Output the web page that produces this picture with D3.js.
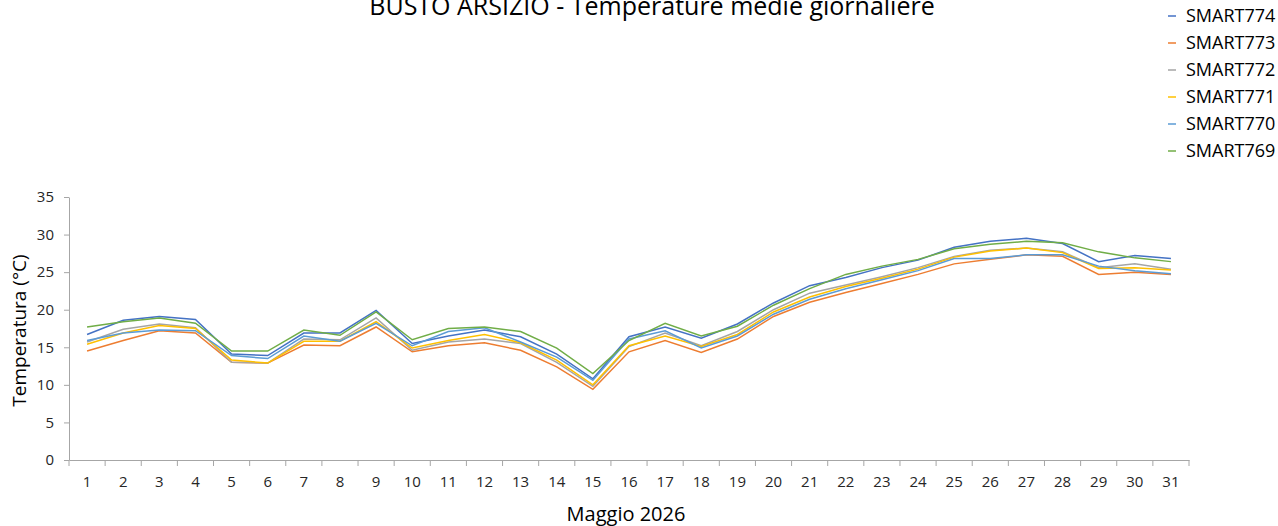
<!DOCTYPE html>
<html>
    <head>
        <title>BUSTO ARSIZIO - Temperature medie giornaliere</title>
        <script src="https://d3js.org/d3.v7.min.js"></script>
        <style>
            * {
                font-family: 'Open Sans', sans-serif;
            }
            body {
                margin: 0;
                background: #ffffff;
                overflow: hidden;
            }
            .axis path,
            .axis line {
                stroke: #a6a6a6;
            }
            .axis text {
                fill: #262626;
                font-size: 15px;
            }
            .serie {
                fill: none;
                stroke-width: 1.5px;
            }
        </style>
    </head>
    <body>
        <script>
            const days = d3.range(1, 32);
            const seriesNames = ['SMART774', 'SMART773', 'SMART772', 'SMART771', 'SMART770', 'SMART769'];
            const seriesColors = ['#4472c4', '#ed7d31', '#a5a5a5', '#ffc000', '#5b9bd5', '#70ad47'];

            const smart774 = [16.7, 18.6, 19.1, 18.7, 14.1, 13.9, 16.9, 16.9, 19.9, 15.5, 16.5, 17.3, 16.4, 14.1, 10.8, 16.4, 17.7, 16.2, 18.1, 20.9, 23.2, 24.3, 25.6, 26.6, 28.3, 29.1, 29.5, 28.8, 26.4, 27.2, 26.8];
            const smart773 = [14.5, 15.9, 17.2, 16.9, 13.0, 12.9, 15.3, 15.2, 17.7, 14.4, 15.2, 15.6, 14.6, 12.4, 9.4, 14.4, 15.9, 14.3, 16.1, 19.1, 21.0, 22.3, 23.5, 24.7, 26.1, 26.7, 27.3, 27.1, 24.7, 25.0, 24.7];
            const smart772 = [15.7, 17.4, 18.1, 17.6, 13.0, 12.9, 16.1, 16.0, 18.9, 14.6, 15.7, 16.1, 15.5, 13.0, 9.8, 15.1, 16.9, 15.2, 17.1, 20.0, 22.2, 23.3, 24.4, 25.6, 27.1, 27.9, 28.2, 27.7, 25.6, 26.1, 25.4];
            const smart771 = [15.4, 16.9, 17.9, 17.5, 13.3, 12.9, 15.8, 15.8, 18.4, 14.9, 15.9, 16.7, 15.6, 13.3, 10.0, 15.2, 16.5, 15.1, 16.7, 19.7, 21.7, 23.1, 24.2, 25.4, 27.0, 27.8, 28.2, 27.6, 25.5, 25.6, 25.3];
            const smart770 = [15.9, 16.9, 17.3, 17.2, 13.9, 13.5, 16.5, 15.8, 18.2, 15.2, 17.1, 17.6, 15.7, 13.7, 10.6, 16.1, 17.2, 14.9, 16.5, 19.4, 21.4, 22.8, 24.0, 25.2, 26.8, 26.8, 27.3, 27.3, 25.8, 25.2, 24.8];
            const smart769 = [17.7, 18.4, 18.9, 18.2, 14.5, 14.5, 17.3, 16.6, 19.7, 16.0, 17.5, 17.7, 17.1, 14.9, 11.5, 15.9, 18.2, 16.5, 17.8, 20.6, 22.8, 24.7, 25.8, 26.7, 28.1, 28.7, 29.1, 28.9, 27.7, 26.9, 26.4];
            const seriesValues = [smart774, smart773, smart772, smart771, smart770, smart769];
            const yTicks = [0, 5, 10, 15, 20, 25, 30, 35];

            const width = 1278;
            const height = 526;
            const margin = { left: 69, right: 89, top: 197, bottom: 66 };

            const svg = d3.select('body').append('svg').attr('width', width).attr('height', height);

            const x = d3
                .scaleBand()
                .domain(days)
                .range([margin.left, width - margin.right])
                .padding(0);
            const y = d3
                .scaleLinear()
                .domain([0, 35])
                .range([height - margin.bottom, margin.top]);

            // asse y
            svg.append('g')
                .attr('class', 'axis')
                .attr('transform', `translate(${margin.left},0)`)
                .call(d3.axisLeft(y).tickValues(yTicks).tickSize(5).tickSizeOuter(0).tickPadding(10));

            // asse x: etichette al centro, tacche ai bordi delle categorie
            const xAxis = svg
                .append('g')
                .attr('class', 'axis')
                .attr('transform', `translate(0,${y(0)})`)
                .call(d3.axisBottom(x).tickSize(0).tickPadding(16));
            xAxis
                .selectAll('.edge')
                .data(days.concat([32]))
                .enter()
                .append('line')
                .attr('class', 'edge')
                .attr('x1', (d) => (d <= 31 ? x(d) : x(31) + x.bandwidth()))
                .attr('x2', (d) => (d <= 31 ? x(d) : x(31) + x.bandwidth()))
                .attr('y1', 0)
                .attr('y2', 6);

            const line = d3
                .line()
                .x((d, i) => x(days[i]) + x.bandwidth() / 2)
                .y((d) => y(d));

            svg.append('g')
                .selectAll('path')
                .data(seriesValues)
                .enter()
                .append('path')
                .attr('class', 'serie')
                .attr('stroke', (d, i) => seriesColors[i])
                .attr('d', line);

            // titolo
            svg.append('text')
                .attr('x', 652)
                .attr('y', 15)
                .attr('text-anchor', 'middle')
                .attr('font-size', 25)
                .attr('fill', '#000')
                .text('BUSTO ARSIZIO - Temperature medie giornaliere');

            // legenda
            const legend = svg
                .append('g')
                .selectAll('g')
                .data(seriesNames)
                .enter()
                .append('g')
                .attr('transform', (d, i) => `translate(1168,${16 + i * 27})`);
            legend
                .append('line')
                .attr('x1', 0)
                .attr('x2', 8)
                .attr('stroke', (d, i) => seriesColors[i])
                .attr('stroke-width', 1.5);
            legend
                .append('text')
                .attr('x', 18)
                .attr('dy', '0.35em')
                .attr('font-size', 18)
                .attr('fill', '#000')
                .text((d) => d);

            // titoli assi
            svg.append('text')
                .attr('transform', `translate(26,${(y(0) + y(35)) / 2 + 2}) rotate(-90)`)
                .attr('text-anchor', 'middle')
                .attr('font-size', 19)
                .attr('fill', '#000')
                .text('Temperatura (°C)');
            svg.append('text')
                .attr('x', 626)
                .attr('y', 521)
                .attr('text-anchor', 'middle')
                .attr('font-size', 20)
                .attr('fill', '#000')
                .text('Maggio 2026');
        </script>
    </body>
</html>
